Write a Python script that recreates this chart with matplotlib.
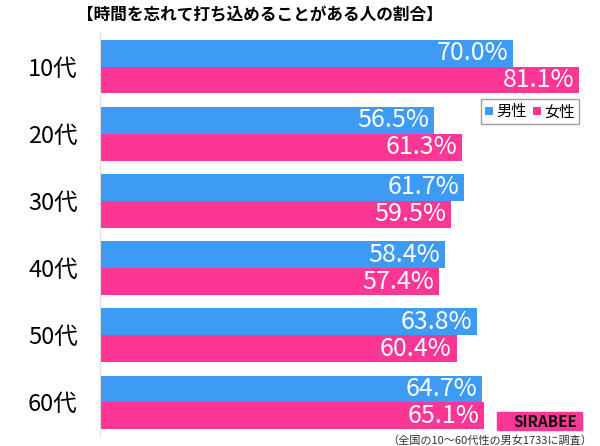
import matplotlib.pyplot as plt
import numpy as np

plt.rcParams['font.family'] = ['Noto Sans CJK JP', 'DejaVu Sans']

ages = ['10代', '20代', '30代', '40代', '50代', '60代']
male = [70.0, 56.5, 61.7, 58.4, 63.8, 64.7]
female = [81.1, 61.3, 59.5, 57.4, 60.4, 65.1]

blue = '#3d9bf5'
pink = '#fc3694'

fig = plt.figure(figsize=(6, 4.46), dpi=100)
ax = fig.add_axes([100/600, 1 - 436/446, 500/600, 403/446])

y = np.arange(len(ages))
h = 0.4
bm = ax.barh(y - h/2, male, height=h, color=blue)
bf = ax.barh(y + h/2, female, height=h, color=pink)

for bars, vals in ((bm, male), (bf, female)):
    for b, v in zip(bars, vals):
        ax.text(v - 0.8, b.get_y() + b.get_height()/2, f'{v:.1f}%',
                ha='right', va='center', color='white', fontsize=18)

ax.set_xlim(0, 84.7)
ax.set_ylim(len(ages) - 0.5, -0.5)
ax.set_yticks(y)
ax.set_yticklabels(ages, fontsize=17)
ax.tick_params(axis='y', length=0, pad=16)
ax.set_xticks([])
for s in ['top', 'right', 'bottom']:
    ax.spines[s].set_visible(False)
ax.spines['left'].set_color('#dddddd')

leg = ax.legend([bm, bf], ['男性', '女性'], loc='upper right',
                bbox_to_anchor=(0.958, 0.835), fontsize=11, frameon=True,
                fancybox=False, handlelength=0.5, handleheight=0.5,
                handletextpad=0.25, columnspacing=0.4, ncol=2,
                borderpad=0.25, borderaxespad=0.0)
leg.get_frame().set_edgecolor('#888888')

fig.text(260/600, 0.965, '【時間を忘れて打ち込めることがある人の割合】',
         ha='center', va='center', fontsize=12, fontweight='bold')

# logo
fig.patches.append(plt.Rectangle((497/600, 1 - 430/446), 85/600, 18/446,
                                 transform=fig.transFigure, color=pink))
fig.text(545/600, 1 - 422/446, 'SIRABEE', ha='center', va='center',
         fontsize=11, fontweight='bold', style='italic', color='#111111')
fig.text(592/600, 0.0, '（全国の10～60代性の男女1733に調査）',
         ha='right', va='bottom', fontsize=8, color='#333333')

fig.savefig('out.png', dpi=100)
